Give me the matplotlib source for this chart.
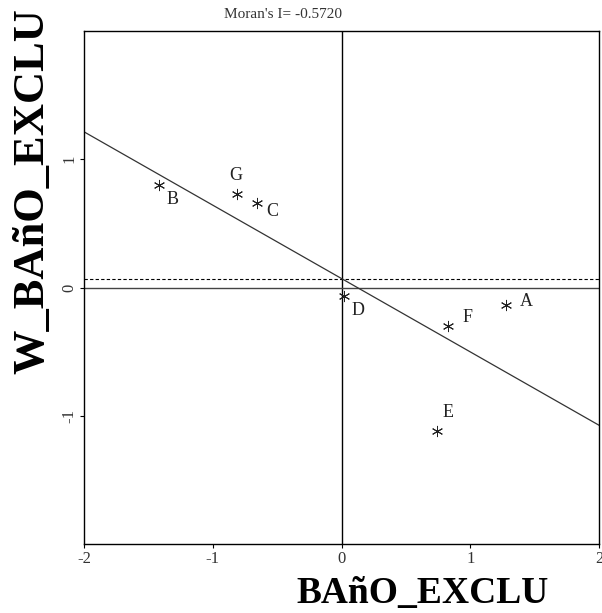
import matplotlib
matplotlib.use('Agg')
import matplotlib.pyplot as plt

plt.rcParams['font.family'] = ['Liberation Serif', 'DejaVu Serif']
plt.rcParams['axes.unicode_minus'] = False

# standardized values (x) and spatial lag (W)
labels = ['B', 'G', 'C', 'D', 'F', 'A', 'E']
x_vals = [-1.42, -0.81, -0.66, 0.02, 0.83, 1.28, 0.74]
w_vals = [0.80, 0.73, 0.66, -0.07, -0.30, -0.14, -1.12]
moran_i = -0.5720
intercept = 0.07
w_mean = 0.064

# label offsets in pixels
offsets = [(14, -15), (-1, 18), (16, -9), (14, -14), (19, 8), (20, 4), (11, 19)]

fig = plt.figure(figsize=(6.02, 6.13), dpi=100)
ax = fig.add_axes([84 / 602, 1 - 544 / 613, (599 - 84) / 602, (544 - 31) / 613])

ax.set_xlim(-2, 2)
ax.set_ylim(-2, 2)
ax.set_xticks([-2, -1, 0, 1, 2])
ax.set_yticks([-1, 0, 1])
ax.tick_params(direction='out', length=3, width=0.8, labelsize=12,
               labelcolor='#333333', pad=2)
for lab in ax.get_yticklabels():
    lab.set_rotation(90)
    lab.set_va('center')

for s in ax.spines.values():
    s.set_linewidth(1.0)

ax.axvline(0, color='black', lw=1.0)
ax.axhline(0, color='#444444', lw=1.0)
ax.axhline(w_mean, color='black', lw=0.8, ls=(0, (3, 2)))

xs = [-2, 2]
ax.plot(xs, [intercept + moran_i * v for v in xs], color='#333333', lw=0.9)

ax.plot(x_vals, w_vals, ls='none', marker=(6, 2, 0), markersize=8,
        color='#222222', mew=0.7)
for lab, x, y, off in zip(labels, x_vals, w_vals, offsets):
    ax.annotate(lab, (x, y), xytext=off, textcoords='offset pixels',
                ha='center', va='center', fontsize=13, color='#222222')

fig.text(283 / 602, 1 - 15 / 613, "Moran's I= %.4f" % moran_i,
         ha='center', va='center', fontsize=11, color='#333333')
fig.text(423 / 602, 1 - 594 / 613, 'BAñO_EXCLU', ha='center', va='center',
         fontsize=27, fontweight='bold')
fig.text(32 / 602, 1 - 191 / 613, 'W_BAñO_EXCLU', ha='center', va='center',
         fontsize=32, fontweight='bold', rotation=90)

fig.savefig('out.png', dpi=100)
